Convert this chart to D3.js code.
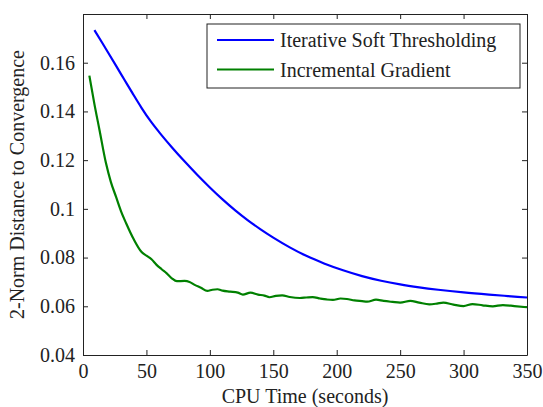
<!DOCTYPE html>
<html>
<head>
<meta charset="utf-8">
<script src="https://cdn.jsdelivr.net/npm/d3@7"></script>
<style>
  body { margin: 0; background: #fff; }
</style>
</head>
<body>
<div id="chart"></div>
<script>
// CPU time (seconds) and distance values
var istTime = [9, 15, 20, 26, 33, 39, 46, 53, 60, 70, 80, 90, 100, 110, 120, 130, 140, 150, 163, 176,
    190, 205, 220, 235, 250, 265, 280, 300, 320, 335, 350];
var istValue = [0.1734, 0.1683, 0.1640, 0.1588, 0.1527, 0.1475, 0.1416, 0.1362, 0.1315, 0.1253, 0.1195,
    0.1140, 0.1088, 0.1039, 0.0994, 0.0953, 0.0916, 0.0882, 0.0842, 0.0807, 0.0776, 0.0748, 0.0724,
    0.0705, 0.0690, 0.0678, 0.0668, 0.0657, 0.0648, 0.0642, 0.0636];

var igTime = [5, 9, 13, 18, 22, 26, 30, 34, 40, 46, 50, 54, 58, 62, 66, 70, 74, 80, 84, 88, 93, 98,
    102, 106, 110, 116, 122, 126, 132, 138, 143, 147, 152, 157, 163, 171, 176, 181, 187, 192, 197,
    203, 208, 214, 220, 224, 231, 237, 244, 250, 258, 265, 273, 279, 284, 292, 300, 307, 315, 323,
    331, 340, 350];
var igValue = [0.1547, 0.1430, 0.1324, 0.1190, 0.1110, 0.1050, 0.0990, 0.0941, 0.0875, 0.0824, 0.0808,
    0.0793, 0.0770, 0.0752, 0.0735, 0.0715, 0.0703, 0.0704, 0.0700, 0.0688, 0.0676, 0.0663, 0.0668,
    0.0670, 0.0664, 0.0660, 0.0656, 0.0648, 0.0656, 0.0648, 0.0644, 0.0637, 0.0643, 0.0645, 0.0638,
    0.0634, 0.0636, 0.0638, 0.0632, 0.0628, 0.0626, 0.0632, 0.0630, 0.0624, 0.0621, 0.0619, 0.0627,
    0.0622, 0.0618, 0.0615, 0.0622, 0.0615, 0.0608, 0.0611, 0.0615, 0.0607, 0.0601, 0.0609, 0.0604,
    0.0600, 0.0605, 0.0601, 0.0596];

var xTicks = [0, 50, 100, 150, 200, 250, 300, 350];
var yTicks = [0.04, 0.06, 0.08, 0.1, 0.12, 0.14, 0.16];
var seriesNames = ["Iterative Soft Thresholding", "Incremental Gradient"];
var seriesColors = ["#0000ff", "#008000"];

var FONT = "Liberation Serif, Times New Roman, serif";

var margin = { top: 14, right: 16, bottom: 52, left: 83 },
    width = 543 - margin.left - margin.right,
    height = 407 - margin.top - margin.bottom;

var svg = d3.select("#chart")
    .append("svg")
    .attr("width", 543)
    .attr("height", 407)
    .append("g")
    .attr("transform", "translate(" + margin.left + "," + margin.top + ")");

var x = d3.scaleLinear().domain([0, 350]).range([0, width]);
var y = d3.scaleLinear().domain([0.04, 0.18]).range([height, 0]);

function styleAxis(g) {
    g.attr("font-family", FONT);
    g.selectAll("path").attr("stroke", "#222").attr("stroke-width", 1);
    g.selectAll("line").attr("stroke", "#222");
    g.selectAll("text")
        .attr("font-family", FONT)
        .attr("font-size", 20)
        .attr("fill", "#222");
}

svg.append("g")
    .attr("transform", "translate(0," + height + ")")
    .call(d3.axisBottom(x).tickValues(xTicks).tickSizeInner(-5).tickSizeOuter(0).tickPadding(9))
    .call(styleAxis);
svg.append("g")
    .call(d3.axisLeft(y).tickValues(yTicks).tickFormat(d3.format("")).tickSizeInner(-5).tickSizeOuter(0).tickPadding(8))
    .call(styleAxis);
svg.append("g")
    .call(d3.axisTop(x).tickValues(xTicks).tickFormat("").tickSizeInner(-5).tickSizeOuter(0))
    .call(styleAxis);
svg.append("g")
    .attr("transform", "translate(" + width + ",0)")
    .call(d3.axisRight(y).tickValues(yTicks).tickFormat("").tickSizeInner(-5).tickSizeOuter(0))
    .call(styleAxis);

var line = d3.line()
    .curve(d3.curveMonotoneX)
    .x(function (d) { return x(d[0]); })
    .y(function (d) { return y(d[1]); });

var series = [d3.zip(istTime, istValue), d3.zip(igTime, igValue)];
series.forEach(function (s, i) {
    svg.append("path")
        .datum(s)
        .attr("fill", "none")
        .attr("stroke", seriesColors[i])
        .attr("stroke-width", 2.2)
        .attr("d", line);
});

// legend
var legend = svg.append("g").attr("transform", "translate(124,10)");
legend.append("rect")
    .attr("width", 313)
    .attr("height", 64)
    .attr("fill", "#fff")
    .attr("stroke", "#222")
    .attr("stroke-width", 1);
seriesNames.forEach(function (name, i) {
    var yy = 16 + i * 29.5;
    legend.append("line")
        .attr("x1", 10).attr("x2", 67)
        .attr("y1", yy).attr("y2", yy)
        .attr("stroke", seriesColors[i])
        .attr("stroke-width", 2.2);
    legend.append("text")
        .attr("x", 73)
        .attr("y", yy + 7)
        .attr("fill", "#222")
        .attr("font-family", FONT)
        .attr("font-size", 20)
        .text(name);
});

svg.append("text")
    .attr("x", width / 2)
    .attr("y", height + 48)
    .attr("text-anchor", "middle")
    .attr("fill", "#222")
    .attr("font-family", FONT)
    .attr("font-size", 20)
    .text("CPU Time (seconds)");

svg.append("text")
    .attr("transform", "translate(-59," + (height / 2) + ") rotate(-90)")
    .attr("text-anchor", "middle")
    .attr("fill", "#222")
    .attr("font-family", FONT)
    .attr("font-size", 20)
    .text("2-Norm Distance to Convergence");
</script>
</body>
</html>
